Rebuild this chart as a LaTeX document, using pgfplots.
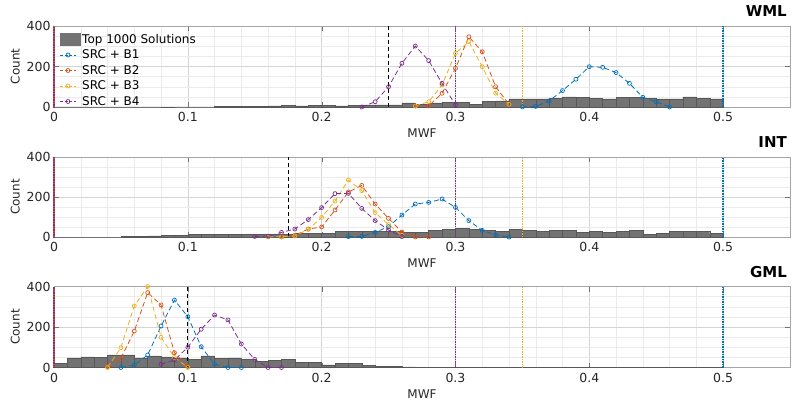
\documentclass[border=0pt]{standalone}
\usepackage{fontspec}
\setmainfont{DejaVu Sans}
\usepackage{pgfplots}
\pgfplotsset{compat=1.18}

\definecolor{mb}{rgb}{0,0.447,0.741}
\definecolor{mo}{rgb}{0.85,0.325,0.098}
\definecolor{my}{rgb}{0.929,0.694,0.125}
\definecolor{mp}{rgb}{0.494,0.184,0.556}
\definecolor{hfill}{RGB}{115,115,115}
\definecolor{hedge}{RGB}{88,88,88}

\pgfplotsset{
  panel/.style={
    scale only axis, width=736pt, height=81pt,
    xmin=0, xmax=0.55, ymin=0, ymax=400, clip=false,
    xtick={0,0.1,0.2,0.3,0.4,0.5}, xticklabels={0,0.1,0.2,0.3,0.4,0.5},
    ytick={0,200,400}, minor x tick num=4, minor y tick num=3,
    grid=both, major grid style={black!17}, minor grid style={black!8},
    tick align=inside, major tick length=5pt, minor tick length=0pt,
    axis line style={black!35}, tick style={black!55},
    ticklabel style={font=\fontsize{12.5}{14}\selectfont, text=black!85},
    xticklabel style={yshift=-2pt},
    /pgf/number format/assume math mode=true,
    xlabel={MWF}, ylabel={Count},
    label style={font=\fontsize{12}{14}\selectfont, text=black!85},
    title style={at={(1,1)}, anchor=south east, inner sep=0pt, yshift=3pt, xshift=-3pt,
      font=\fontsize{15}{18}\selectfont\bfseries},
    anchor=south west,
  },
  hist/.style={ybar interval, fill=hfill, draw=hedge, line width=0.4pt,
    legend image code/.code={\fill[hfill] (0pt,-6pt) rectangle (20pt,6pt);}},
  curve/.style={color=#1, line width=0.8pt, dash pattern=on 5pt off 3pt,
    mark=o, mark size=2pt, mark options={solid, line width=0.7pt},
    legend image code/.code={\draw[##1, dash pattern=on 3pt off 1.5pt] (0pt,0pt) -- (16pt,0pt);
      \draw[##1, solid] plot coordinates {(8pt,0pt)};}},
  vdot/.style={draw=#1, color=#1, line width=1.4pt, dash pattern=on 1.5pt off 1pt, forget plot},
  vblack/.style={black, line width=1.1pt, dash pattern=on 4pt off 3pt, forget plot},
}

\newcommand{\reflines}{%
  \addplot[vdot=mo] coordinates {(0,0) (0,400)};
  \addplot[vdot=mp, dash phase=1.25pt] coordinates {(0,0) (0,400)};
  \addplot[vdot=mp] coordinates {(0.3,0) (0.3,400)};
  \addplot[vdot=my] coordinates {(0.35,0) (0.35,400)};
  \addplot[vdot=mb] coordinates {(0.5,0) (0.5,400)};
}

\begin{document}
\begin{tikzpicture}
\path[use as bounding box] (0pt,0pt) rectangle (800pt,410pt);

% ---------------- WML ----------------
\begin{axis}[panel, at={(54pt,303pt)}, title={WML},
  legend style={at={(0.006,0.94)}, anchor=north west, draw=none, fill=none,
    font=\fontsize{12}{13}\selectfont, row sep=1.1pt, inner sep=1pt},
  legend cell align=left]
\addplot[hist] coordinates {
(0.00,0) (0.01,0) (0.02,0) (0.03,0) (0.04,0) (0.05,0) (0.06,0) (0.07,0) (0.08,1) (0.09,0)
(0.10,0) (0.11,0) (0.12,2) (0.13,3) (0.14,3) (0.15,3) (0.16,6) (0.17,8) (0.18,6) (0.19,9)
(0.20,9) (0.21,5) (0.22,8) (0.23,10) (0.24,10) (0.25,10) (0.26,20) (0.27,13) (0.28,20) (0.29,23)
(0.30,23) (0.31,13) (0.32,27) (0.33,30) (0.34,40) (0.35,40) (0.36,40) (0.37,43) (0.38,50) (0.39,47)
(0.40,43) (0.41,40) (0.42,47) (0.43,47) (0.44,43) (0.45,40) (0.46,40) (0.47,50) (0.48,43) (0.49,40)
(0.50,0)};
\addlegendentry{Top 1000 Solutions}
\reflines
\addplot[vblack] coordinates {(0.25,0) (0.25,400)};
\addplot[curve=mb] coordinates {(0.35,0) (0.36,3) (0.37,30) (0.38,81) (0.39,137) (0.40,199) (0.41,196) (0.42,170) (0.43,117) (0.44,48) (0.45,26) (0.46,0)};
\addlegendentry{SRC + B1}
\addplot[curve=mo] coordinates {(0.27,5) (0.28,5) (0.29,68) (0.30,191) (0.31,347) (0.32,273) (0.33,100) (0.34,13)};
\addlegendentry{SRC + B2}
\addplot[curve=my] coordinates {(0.27,5) (0.28,26) (0.29,109) (0.30,265) (0.31,323) (0.32,199) (0.33,68) (0.34,13)};
\addlegendentry{SRC + B3}
\addplot[curve=mp] coordinates {(0.23,0) (0.24,26) (0.25,100) (0.26,216) (0.27,301) (0.28,229) (0.29,117) (0.30,10)};
\addlegendentry{SRC + B4}
\end{axis}

% ---------------- INT ----------------
\begin{axis}[panel, at={(54pt,173pt)}, height=80pt, title={INT}]
\addplot[hist] coordinates {
(0.00,0) (0.01,0) (0.02,0) (0.03,0) (0.04,0) (0.05,2) (0.06,3) (0.07,6) (0.08,7) (0.09,10)
(0.10,12) (0.11,12) (0.12,12) (0.13,12) (0.14,12) (0.15,12) (0.16,13) (0.17,13) (0.18,20) (0.19,20)
(0.20,17) (0.21,28) (0.22,28) (0.23,28) (0.24,28) (0.25,28) (0.26,23) (0.27,23) (0.28,33) (0.29,40)
(0.30,43) (0.31,37) (0.32,33) (0.33,30) (0.34,37) (0.35,33) (0.36,30) (0.37,33) (0.38,33) (0.39,23)
(0.40,27) (0.41,23) (0.42,27) (0.43,33) (0.44,13) (0.45,20) (0.46,30) (0.47,27) (0.48,27) (0.49,17)
(0.50,0)};
\reflines
\addplot[vblack] coordinates {(0.175,0) (0.175,400)};
\addplot[curve=mb] coordinates {(0.22,2) (0.23,3) (0.24,23) (0.25,52) (0.26,110) (0.27,165) (0.28,173) (0.29,190) (0.30,148) (0.31,82) (0.32,33) (0.33,10) (0.34,0)};
\addplot[curve=mo] coordinates {(0.17,0) (0.18,8) (0.19,40) (0.20,50) (0.21,135) (0.22,225) (0.23,258) (0.24,165) (0.25,93) (0.26,25) (0.27,0) (0.28,0)};
\addplot[curve=my] coordinates {(0.16,0) (0.17,2) (0.18,5) (0.19,38) (0.20,98) (0.21,180) (0.22,285) (0.23,232) (0.24,122) (0.25,62) (0.26,8)};
\addplot[curve=mp] coordinates {(0.15,3) (0.16,4) (0.17,23) (0.18,40) (0.19,87) (0.20,147) (0.21,217) (0.22,218) (0.23,143) (0.24,82) (0.25,35) (0.26,2)};
\end{axis}

% ---------------- GML ----------------
\begin{axis}[panel, at={(54pt,42.5pt)}, title={GML}]
\addplot[hist] coordinates {
(0.00,20) (0.01,48) (0.02,52) (0.03,49) (0.04,62) (0.05,62) (0.06,47) (0.07,57) (0.08,52) (0.09,48)
(0.10,40) (0.11,57) (0.12,44) (0.13,48) (0.14,40) (0.15,30) (0.16,37) (0.17,40) (0.18,24) (0.19,24)
(0.20,13) (0.21,19) (0.22,19) (0.23,12) (0.24,7) (0.25,5) (0.26,3) (0.27,2) (0.28,1) (0.29,0)
(0.30,0) (0.31,0) (0.32,0) (0.33,0) (0.34,0) (0.35,0) (0.36,0) (0.37,0) (0.38,0) (0.39,0)
(0.40,0) (0.41,0) (0.42,0) (0.43,0) (0.44,0) (0.45,0) (0.46,0) (0.47,0) (0.48,0) (0.49,0)
(0.50,0)};
\reflines
\addplot[vblack] coordinates {(0.1,0) (0.1,400)};
\addplot[curve=mb] coordinates {(0.05,0) (0.06,12) (0.07,62) (0.08,205) (0.09,333) (0.10,251) (0.11,103) (0.12,16) (0.13,0) (0.14,0)};
\addplot[curve=mo] coordinates {(0.04,4) (0.05,45) (0.06,180) (0.07,370) (0.08,309) (0.09,73) (0.10,5)};
\addplot[curve=my] coordinates {(0.04,0) (0.05,98) (0.06,304) (0.07,400) (0.08,149) (0.09,50) (0.10,0)};
\addplot[curve=mp] coordinates {(0.08,16) (0.09,37) (0.10,100) (0.11,189) (0.12,259) (0.13,235) (0.14,116) (0.15,40) (0.16,0) (0.17,0)};
\end{axis}
\end{tikzpicture}
\end{document}
